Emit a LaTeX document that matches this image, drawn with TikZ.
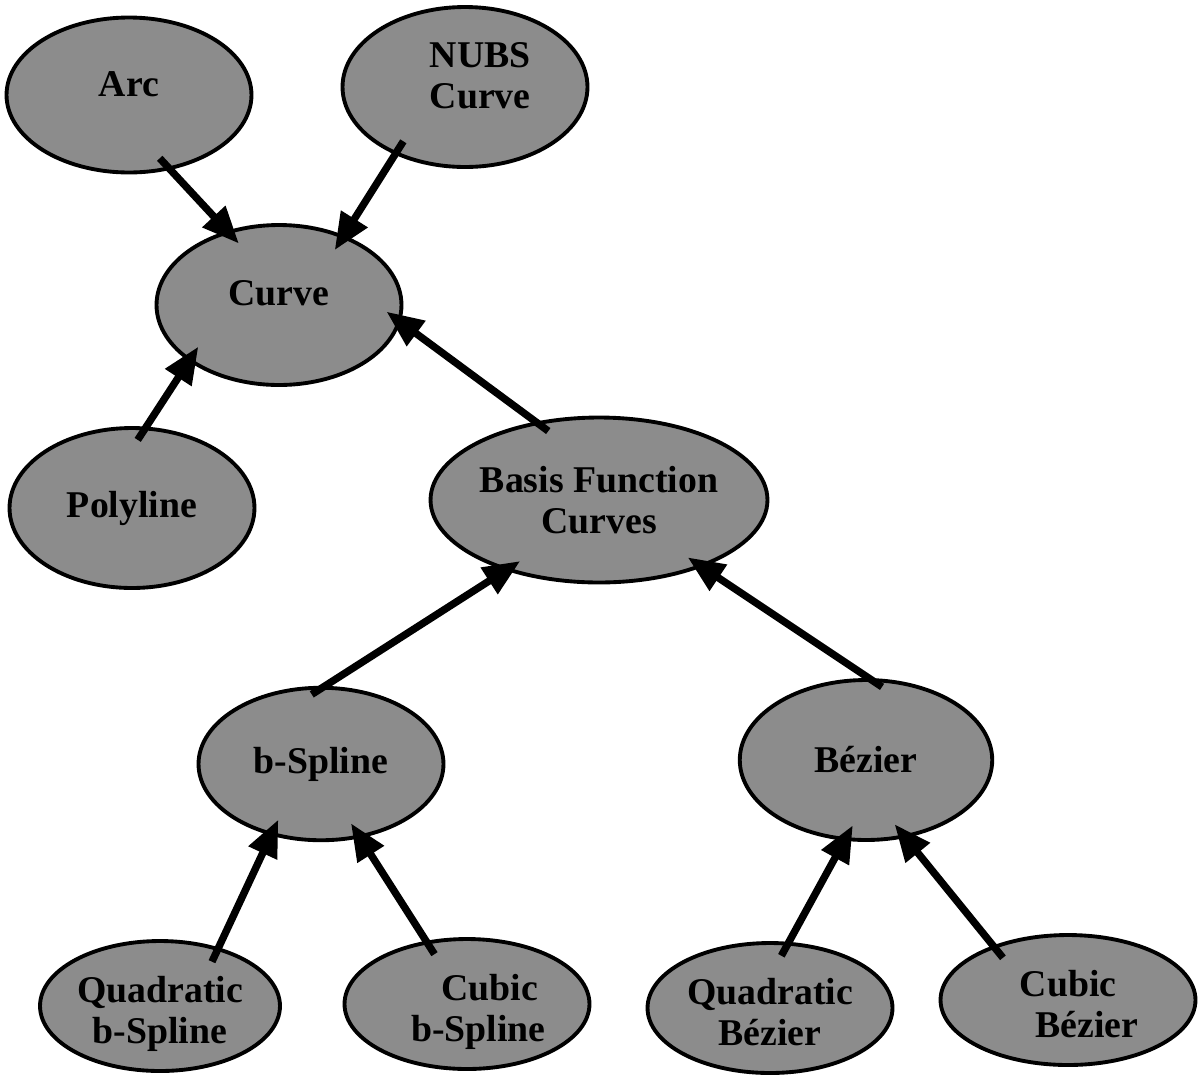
\documentclass[tikz,border=0pt]{standalone}
\usepackage{fontspec}
\setmainfont{Liberation Serif}
\usetikzlibrary{shapes.geometric, arrows.meta}
\definecolor{curvegray}{RGB}{140, 140, 140}

% label text, raised or lowered inside its oval
\newcommand{\ovaltext}[2]{\raisebox{#1}[\height][\depth]{\begin{tabular}{@{}c@{}}#2\end{tabular}}}

\tikzset{
    classnode/.style={ellipse, draw, line width=2.2pt, fill=curvegray, inner sep=0pt,
        minimum width=4.9cm, minimum height=3.1cm, align=center,
        font=\bfseries\fontsize{21.5}{23.5}\selectfont},
    lownode/.style={classnode, minimum height=2.6cm},
    inherits/.style={-{Triangle[length=21pt, width=17pt]}, line width=4.2pt,
        shorten <=-9pt, shorten >=-10pt}
}

\begin{document}
\begin{tikzpicture}[x=0.02cm, y=-0.02cm]
    \useasboundingbox (0,0) rectangle (1200,1076);

    % Top level
    \node[classnode] (arc) at (129,95) {\ovaltext{4pt}{Arc}};
    \node[classnode, minimum height=3.2cm] (nubs) at (465,87) {\ovaltext{4pt}{\hspace{0.8em}NUBS\\\hspace{0.8em}Curve}};
    \node[classnode, minimum height=3.2cm] (curve) at (279,305) {\ovaltext{4.5pt}{Curve}};
    \node[classnode, minimum height=3.2cm] (polyline) at (132,508) {Polyline};
    \node[classnode, minimum width=5.25cm, minimum height=3.3cm] (basis) at (599,500) {Basis Function\\Curves};

    % Middle level
    \node[classnode, minimum height=3.05cm] (bspline) at (321,764) {b-Spline};
    \node[classnode, minimum width=5.05cm, minimum height=3.2cm] (bezier) at (866,760) {B\'ezier};

    % Bottom level
    \node[lownode, minimum width=4.8cm] (quadbspline) at (160,1006) {\ovaltext{-5pt}{Quadratic\\b-Spline}};
    \node[lownode] (cubicbspline) at (467,1004) {\ovaltext{-5pt}{\hspace{1.2em}Cubic\\\hspace{0.6em}b-Spline}};
    \node[lownode] (quadbezier) at (770,1008) {\ovaltext{-5pt}{Quadratic\\B\'ezier}};
    \node[lownode, minimum width=5.1cm] (cubicbezier) at (1068,1000) {\ovaltext{-5pt}{Cubic\\\hspace{1em}B\'ezier}};

    % Inheritance arrows
    \draw[inherits] (arc.-61) -- (curve.125);
    \draw[inherits] (nubs.-136) -- (curve.47);
    \draw[inherits] (polyline.80) -- (curve.-148);
    \draw[inherits] (basis.129) -- (curve.-8);
    \draw[inherits] (bspline.87) -- (basis.-143);
    \draw[inherits] (bezier.88) -- (basis.-33);
    \draw[inherits] (quadbspline.45) -- (bspline.-125);
    \draw[inherits] (cubicbspline.123) -- (bspline.-62);
    \draw[inherits] (quadbezier.74) -- (bezier.-105);
    \draw[inherits] (cubicbezier.144) -- (bezier.-63);
\end{tikzpicture}
\end{document}
